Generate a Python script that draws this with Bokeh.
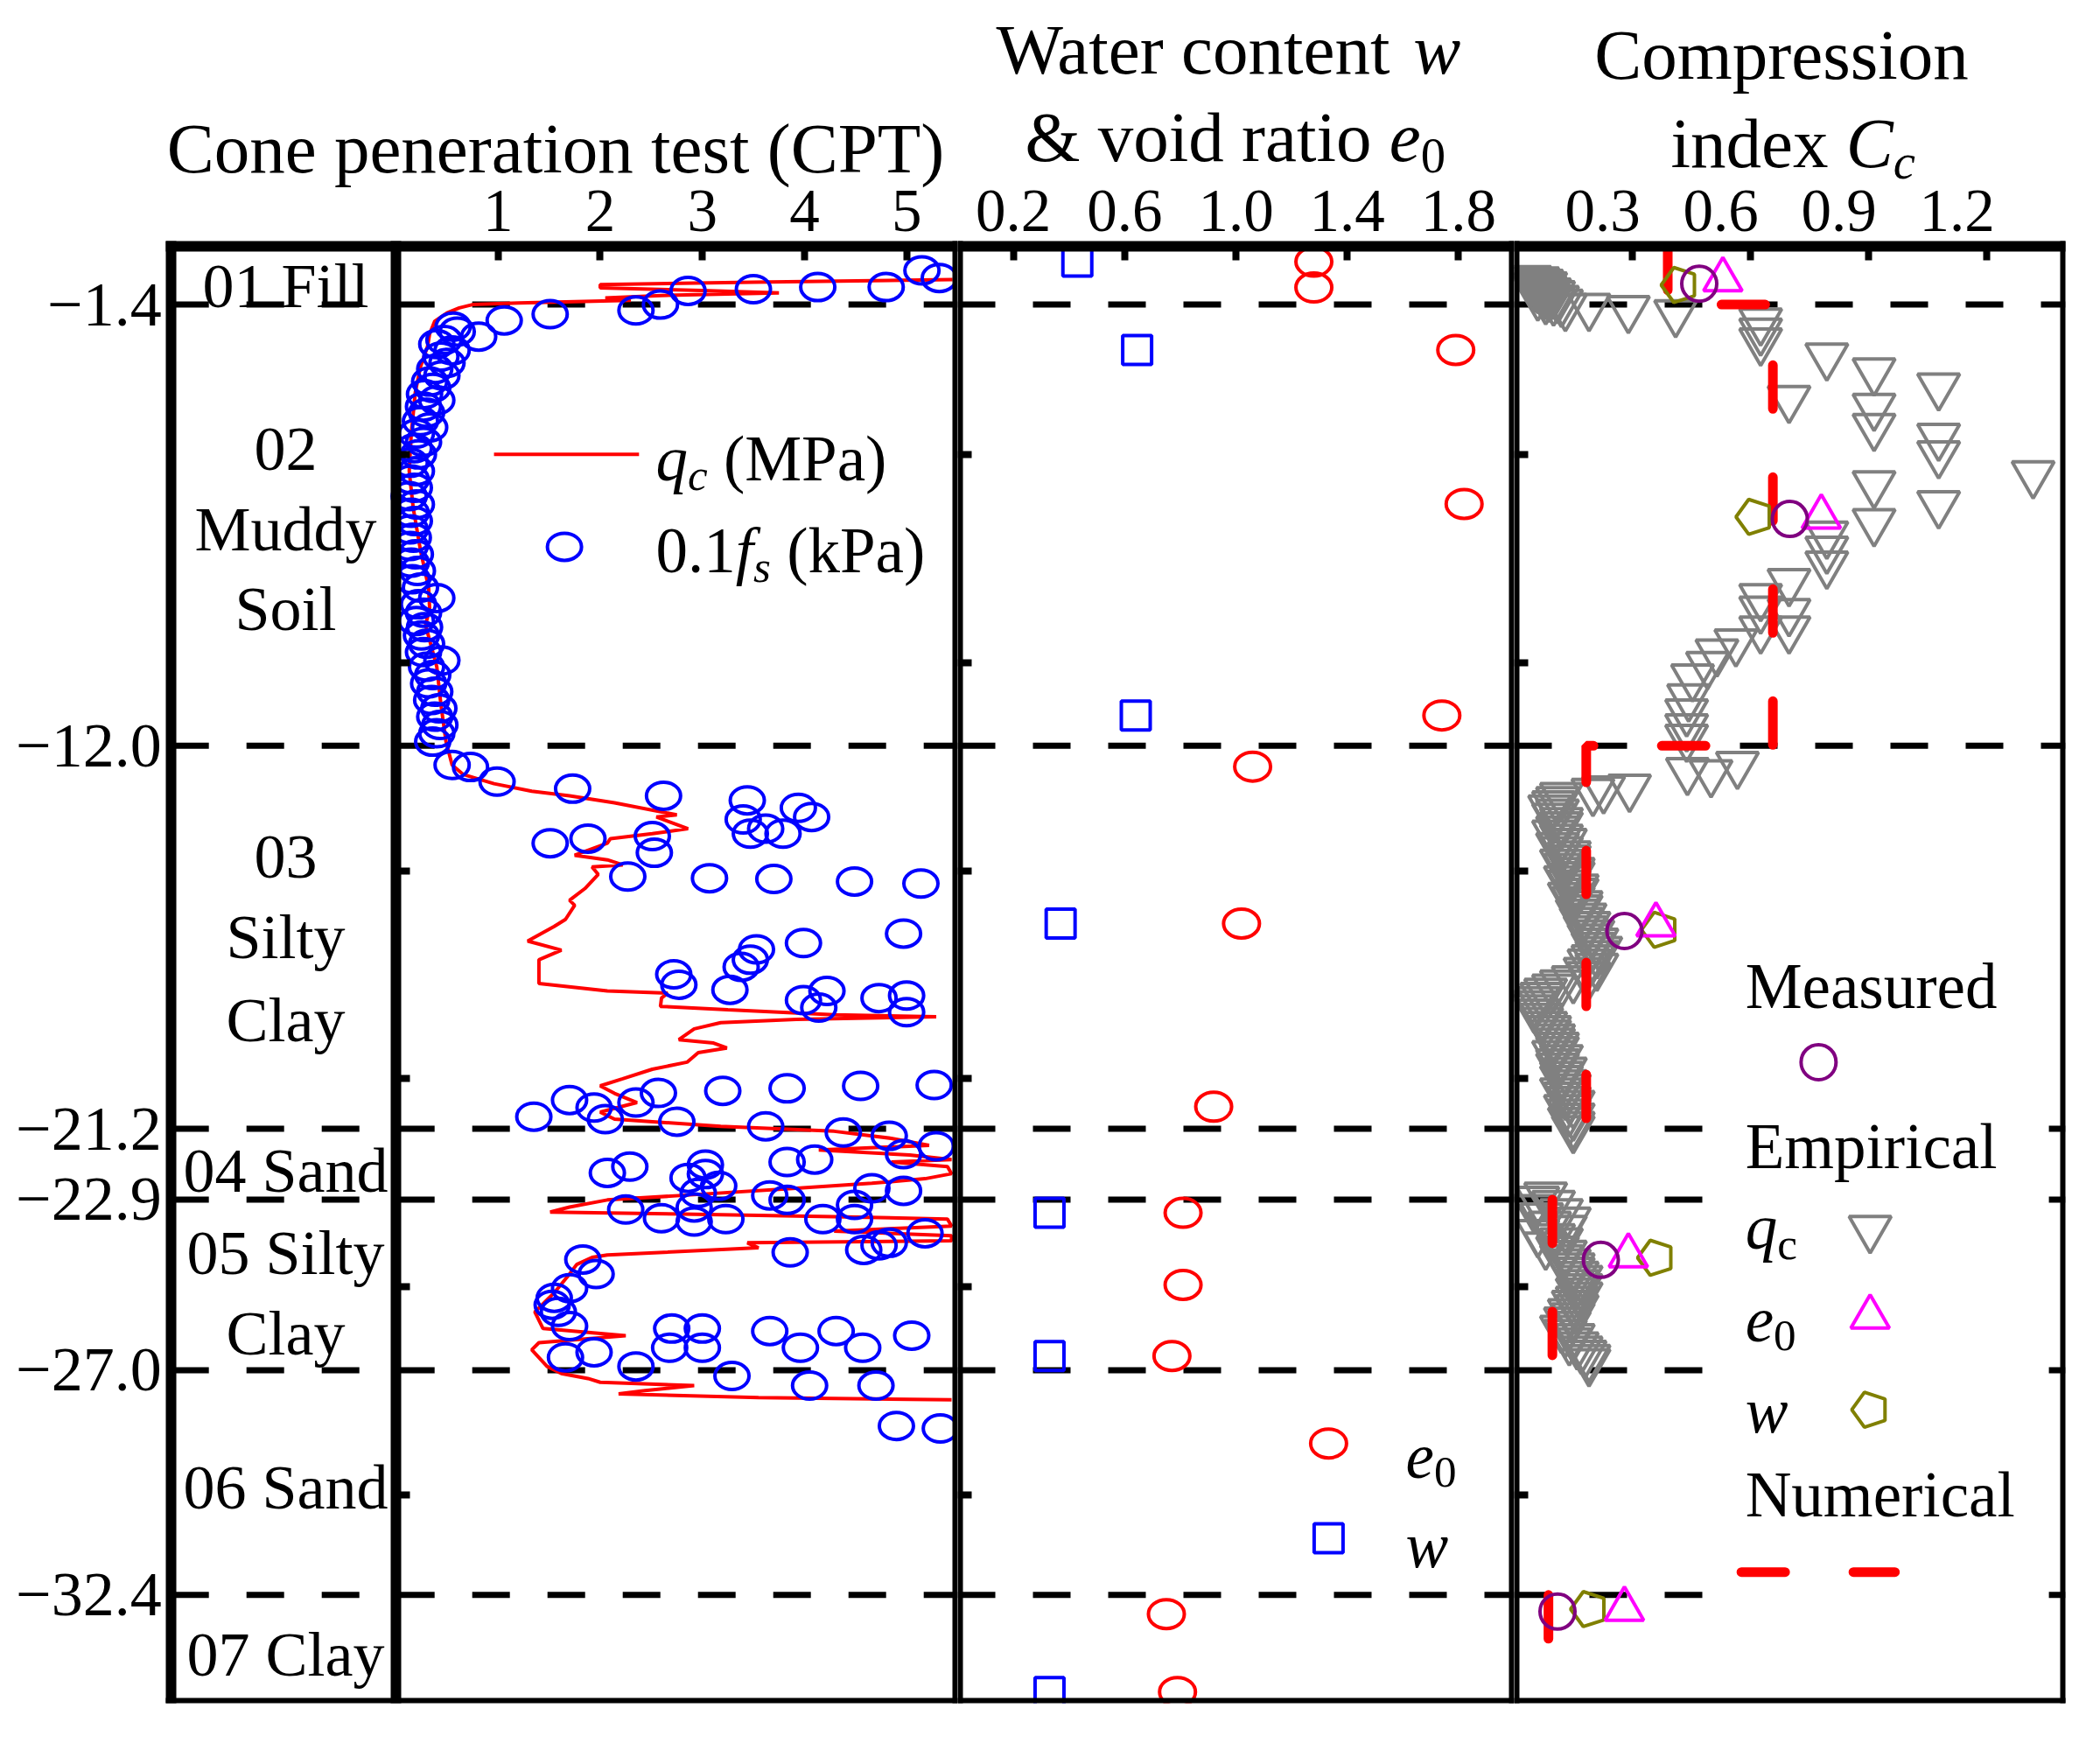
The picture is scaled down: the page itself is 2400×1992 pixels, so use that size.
import math
from bokeh.plotting import figure
from bokeh.models import (Range1d, LinearAxis, FixedTicker, CustomJSTickFormatter,
                          Span, Label, ColumnDataSource, BoxAnnotation)
from bokeh.layouts import row
from bokeh.embed import file_html
from bokeh.resources import INLINE

FONT = "Liberation Serif"
RED = "#FF0000"; BLUE = "#0000FF"; GRAY = "#808080"
PURPLE = "#800080"; MAGENTA = "#FF00FF"; OLIVE = "#808000"

# ------------------------------------------------------------------ data
layer_bounds = [1.4, 12.0, 21.2, 22.9, 27.0, 32.4]
depth_ticks = [5, 10, 15, 20, 25, 30]
layer_text = ["01 Fill", "02", "Muddy", "Soil", "03", "Silty", "Clay",
              "04 Sand", "05 Silty", "Clay", "06 Sand", "07 Clay"]
layer_text_depth = [1.26, 5.18, 7.1, 9.0, 14.97, 16.9, 18.89,
                    22.5, 24.48, 26.42, 30.12, 34.13]

cpt_ticks = [1, 2, 3, 4, 5]
wc_ticks = [0.2, 0.6, 1.0, 1.4, 1.8]
cc_ticks = [0.3, 0.6, 0.9, 1.2]

# CPT cone resistance q_c (MPa) vs depth (m)
qc_depth = [0.80, 0.86, 0.92, 1.00, 1.06, 1.12, 1.18, 1.24, 1.30, 1.36, 1.40, 1.48, 1.60, 1.80,
            2.1, 2.4, 2.9, 3.5, 4.5, 5.4, 6.3, 7.3, 8.2, 8.7, 9.1, 10.1, 11.0, 11.9,
            12.46, 12.69, 12.91, 13.09, 13.2, 13.37, 13.66, 13.71, 13.99, 14.11, 14.23, 14.34,
            14.63, 14.74, 14.86, 14.91, 15.09, 15.43, 15.71, 15.83, 16.17, 16.34, 16.69, 16.91,
            17.14, 17.37, 17.71, 17.89, 17.94, 18.06, 18.26, 18.34, 18.46, 18.51, 18.57, 18.65,
            18.80, 19.06, 19.14, 19.26, 19.37, 19.60, 19.77, 20.0, 20.17, 20.35, 20.57, 20.80,
            20.97, 21.14, 21.26, 21.43, 21.60, 21.71, 21.83, 21.94, 22.0, 22.11, 22.28, 22.40,
            22.51, 22.63, 22.80, 22.91, 23.08, 23.20, 23.25, 23.31, 23.37, 23.54, 23.66, 23.77,
            23.89, 23.94, 24.06, 24.23, 24.29, 24.46, 24.69, 25.14, 25.60, 26.0, 26.17, 26.34,
            26.51, 26.91, 27.08, 27.20, 27.29, 27.37, 27.49, 27.57, 27.66, 27.71]
qc_mpa = [5.45, 3.5, 2.0, 2.0, 3.0, 3.75, 2.6, 2.05, 2.3, 1.2, 0.75, 0.62, 0.5, 0.38,
          0.33, 0.31, 0.24, 0.19, 0.15, 0.13, 0.17, 0.24, 0.32, 0.33, 0.29, 0.40, 0.44, 0.49,
          0.55, 0.66, 0.96, 1.33, 1.70, 2.14, 2.75, 2.55, 2.86, 2.51, 2.10, 2.07,
          1.75, 2.07, 2.22, 1.92, 1.98, 1.85, 1.70, 1.75, 1.66, 1.55, 1.29, 1.62,
          1.40, 1.40, 1.40, 2.07, 2.66, 2.60, 2.59, 3.25, 4.29, 5.29, 3.92, 3.18,
          2.92, 2.77, 3.11, 3.24, 2.96, 2.85, 2.51, 2.22, 2.0, 2.14, 2.36, 2.0,
          2.14, 3.18, 4.29, 4.85, 5.22, 4.14, 5.03, 5.44, 4.85, 5.40, 5.44, 5.18,
          4.66, 3.92, 2.81, 2.07, 1.70, 1.51, 2.81, 4.29, 5.40, 5.44, 4.29, 5.44,
          5.44, 3.44, 3.55, 2.07, 1.92, 1.77, 1.70, 1.55, 1.36, 1.44, 2.25, 1.40,
          1.33, 1.48, 1.62, 1.88, 2.0, 2.92, 2.44, 2.18, 3.55, 5.44]

# CPT sleeve friction 0.1 f_s (kPa) vs depth (m)
fs_depth = [0.58, 0.76, 0.98, 0.98, 1.03, 1.07, 1.40, 1.54, 1.63, 1.78, 2.17, 1.93,
            2.05, 2.25, 2.35, 2.5, 2.65, 2.8, 2.95, 3.1, 3.25, 3.4, 3.55, 3.7, 3.85, 4.0,
            4.2, 4.35, 4.5, 4.7, 4.85, 5.0, 5.2, 5.4, 5.6, 5.8, 6.0, 6.2, 6.4, 6.6, 6.8,
            7.0, 7.2, 7.4, 7.6, 7.8, 8.0, 8.2, 8.45, 8.6, 8.8, 9.0, 9.15, 9.35, 9.55, 9.75,
            9.95, 10.1, 10.3, 10.5, 10.7, 10.9, 11.1, 11.3, 11.5, 11.7, 11.9,
            12.46, 12.51, 12.86, 13.03, 13.20, 13.31, 13.77, 14.11, 13.99, 14.11, 13.49, 13.71,
            14.34, 14.23, 14.17, 14.57, 15.14, 15.18, 15.20, 15.26, 15.31, 16.51, 16.74, 16.89,
            17.14, 17.31, 17.49, 17.74, 17.86, 18.11, 18.29, 17.89, 18.06, 18.00, 18.40,
            20.15, 20.17, 20.23, 20.29, 20.34, 20.57, 20.51, 20.69, 20.97, 20.91, 21.03, 21.14,
            21.29, 21.37, 21.81, 21.62, 21.94, 22.00, 22.06, 22.29, 22.38, 22.57, 22.11, 22.26,
            22.74, 22.80, 22.91, 23.03, 22.63, 22.69, 23.37, 23.14, 23.35, 23.09, 23.43, 23.37,
            23.37, 24.17, 24.11, 24.00, 23.71, 23.94, 24.34, 24.69, 25.03, 25.26, 25.60, 25.94,
            25.43, 26.69, 26.57, 26.91, 26.46, 26.00, 26.00, 26.46, 27.14, 26.06, 26.46, 26.06,
            26.46, 26.17, 27.37, 27.37, 28.34, 28.40]
fs_01kpa = [5.15, 5.32, 4.80, 4.13, 3.50, 2.86, 2.59, 2.35, 1.51, 1.06, 0.81, 0.56,
            0.60, 0.47, 0.40, 0.55, 0.44, 0.50, 0.38, 0.45, 0.33, 0.36, 0.28, 0.40, 0.27, 0.30,
            0.24, 0.33, 0.20, 0.27, 0.18, 0.22, 0.14, 0.20, 0.15, 0.18, 0.13, 0.20, 0.15, 0.18, 0.14,
            0.17, 0.14, 0.19, 0.15, 0.21, 0.16, 0.24, 0.40, 0.22, 0.27, 0.20, 0.28, 0.25, 0.30, 0.27,
            0.45, 0.30, 0.36, 0.32, 0.38, 0.35, 0.42, 0.38, 0.43, 0.40, 0.36,
            0.55, 0.73, 0.99, 1.73, 2.62, 3.44, 3.40, 3.47, 3.62, 3.79, 3.94, 4.07,
            1.51, 1.88, 2.51, 2.53, 2.27, 3.07, 3.70, 4.49, 5.14, 4.97, 3.99, 3.53,
            3.47, 3.38, 2.72, 2.77, 3.27, 3.99, 4.14, 4.22, 4.73, 5.00, 5.00,
            5.27, 4.55, 3.83, 3.20, 2.57, 2.35, 1.70, 1.94, 2.05, 1.35, 2.75, 3.62,
            4.38, 4.83, 4.97, 5.29, 4.10, 3.83, 3.03, 3.03, 2.86, 3.16, 2.29, 2.07,
            2.96, 3.66, 3.83, 4.49, 4.66, 4.97, 4.49, 2.25, 2.60, 2.92, 2.92, 3.23,
            4.18, 3.86, 4.58, 4.73, 5.18, 4.83, 1.83, 1.96, 1.70, 1.55, 1.59, 1.70,
            1.53, 1.66, 1.94, 2.35, 2.68, 2.70, 3.00, 3.00, 3.29, 3.66, 3.96, 4.31,
            4.57, 5.05, 4.05, 4.70, 4.90, 5.33]

# void ratio e0 and water content w vs depth
e0_depth = [0.37, 0.99, 2.49, 6.19, 11.27, 12.5, 16.27, 20.67, 23.22, 24.95, 26.66, 32.86, 34.73]
e0_val = [1.28, 1.28, 1.79, 1.82, 1.74, 1.06, 1.02, 0.92, 0.81, 0.81, 0.77, 0.75, 0.79]
w_depth = [0.37, 2.49, 11.27, 16.27, 23.22, 26.66, 34.73]
w_val = [0.43, 0.645, 0.64, 0.37, 0.33, 0.33, 0.33]

# compression index Cc
cc_meas_depth = [0.90, 6.55, 16.45, 24.35, 32.8]
cc_meas = [0.47, 0.70, 0.28, 0.22, 0.11]
cc_e0_depth = [0.80, 6.50, 16.30, 24.25, 32.74]
cc_e0 = [0.53, 0.78, 0.36, 0.29, 0.28]
cc_w_depth = [0.93, 6.50, 16.42, 24.30, 32.74]
cc_w = [0.42, 0.61, 0.37, 0.36, 0.19]
# empirical Cc from q_c (gray inverted triangles), layer by layer
cc_qc_depth = [0.78, 0.81, 0.84, 0.87, 0.90, 0.93, 0.96, 0.99, 1.02, 1.05, 1.08, 1.11, 1.14, 1.17,
               1.20, 1.23, 1.26, 1.29, 1.32, 1.35, 1.45, 1.45, 1.50, 1.60,
               1.80, 2.04, 2.28, 2.64, 3.00, 3.36, 3.66, 3.85, 4.33, 4.57, 4.99, 5.47, 5.71, 6.19,
               6.62, 6.92, 7.28, 7.64, 8.06, 8.42, 8.72, 8.78, 9.20, 9.20, 9.51, 9.75, 10.05, 10.35,
               10.83, 11.19, 11.55, 11.80,
               12.60, 12.65, 12.45, 13.04, 13.00, 13.10,
               13.2, 13.3, 13.4, 13.5, 13.6, 13.7, 13.8, 13.9, 14.0, 14.1, 14.2, 14.3, 14.4, 14.5,
               14.6, 14.7, 14.8, 14.9, 15.0, 15.1, 15.2, 15.3, 15.4, 15.5, 15.6, 15.7, 15.8, 15.9,
               16.0, 16.1, 16.2, 16.3, 16.4, 16.5, 16.6, 16.7, 16.8, 16.9, 17.0, 17.1, 17.2, 17.3,
               17.4, 17.5, 17.6, 17.7, 17.8, 17.9, 18.0, 18.1, 18.2, 18.3, 18.4, 18.5, 18.6, 18.7,
               18.8, 18.9, 19.0, 19.1, 19.2, 19.3, 19.4, 19.5, 19.6, 19.7, 19.8, 19.9, 20.0, 20.1,
               20.2, 20.3, 20.4, 20.5, 20.6, 20.7, 20.8, 20.9, 21.0, 21.1, 21.2,
               22.8, 22.9, 23.0, 23.1, 23.2, 23.3, 23.4, 23.5, 23.6, 23.7, 23.8, 23.9, 24.0, 24.1,
               24.2, 24.3, 24.4, 24.5, 24.6, 24.7, 24.8, 24.9, 25.0, 25.1, 25.2, 25.3, 25.4, 25.5,
               25.6, 25.7, 25.8, 25.9, 26.0, 26.1, 26.2, 26.3, 26.4, 26.5, 26.6, 26.7, 26.8]
cc_qc = [0.04, 0.06, 0.05, 0.07, 0.06, 0.08, 0.07, 0.05, 0.06, 0.08, 0.09, 0.07, 0.10, 0.08,
         0.06, 0.09, 0.11, 0.08, 0.10, 0.12, 0.13, 0.19, 0.29, 0.41,
         0.626, 0.626, 0.626, 0.794, 0.914, 1.078, 0.698, 0.914, 0.914, 1.078, 1.078, 1.318, 0.914, 1.078,
         0.914, 0.794, 0.794, 0.794, 0.698, 0.626, 0.626, 0.698, 0.626, 0.698, 0.563, 0.515, 0.491, 0.453,
         0.443, 0.438, 0.438, 0.438,
         0.44, 0.50, 0.567, 0.227, 0.293, 0.20,
         0.12, 0.11, 0.10, 0.09, 0.11, 0.10, 0.12, 0.12, 0.11, 0.10, 0.12, 0.13, 0.11, 0.12,
         0.14, 0.14, 0.12, 0.13, 0.15, 0.15, 0.13, 0.14, 0.16, 0.16, 0.14, 0.15, 0.17, 0.17,
         0.16, 0.18, 0.17, 0.19, 0.18, 0.20, 0.19, 0.21, 0.20, 0.22, 0.21, 0.20, 0.19, 0.21,
         0.18, 0.19, 0.15, 0.12, 0.10, 0.08, 0.07, 0.06, 0.05, 0.05, 0.06, 0.07, 0.07, 0.08,
         0.09, 0.09, 0.10, 0.10, 0.11, 0.11, 0.10, 0.12, 0.11, 0.11, 0.13, 0.12, 0.12, 0.13,
         0.14, 0.12, 0.13, 0.14, 0.15, 0.13, 0.14, 0.15, 0.14, 0.15, 0.15,
         0.08, 0.06, 0.10, 0.05, 0.12, 0.07, 0.14, 0.09, 0.13, 0.06, 0.10, 0.12, 0.08, 0.11,
         0.13, 0.12, 0.14, 0.15, 0.15, 0.16, 0.17, 0.16, 0.17, 0.16, 0.17, 0.16, 0.15, 0.16,
         0.14, 0.15, 0.13, 0.14, 0.12, 0.13, 0.15, 0.14, 0.16, 0.17, 0.18, 0.19, 0.19]
num_cc = [[0.39, 0.39, 0.657, 0.657, 0.183, 0.183], [0.097, 0.097], [0.087, 0.087]]
num_depth = [[0.0, 1.4, 1.4, 12.0, 12.0, 21.2], [22.9, 27.0], [32.4, 35.0]]

# ------------------------------------------------------------------ layout geometry
TOTAL_H = 1976
MB_BOT = 30
TOP_PX = 281                    # title/tick area above depth 0 (inside the frame)
FRAME_H = TOTAL_H - MB_BOT
SY = (FRAME_H - TOP_PX) / 35.0  # px per metre of depth
Y_TOP = -TOP_PX / SY
F1_W, F2_W, F3_W = 1094, 636, 654
F1_ZERO = 452                   # px from f1's left edge to CPT x = 0
SX1 = (F1_W - F1_ZERO) / 5.5
X1_L = -F1_ZERO / SX1
LAYER_L = -2.2                  # left edge of the layer-name column (CPT units)
SX2 = F2_W / 2.0
SX3 = (F3_W - 24) / 1.4
TITLE_FS = 81
BODY_FS = 73
DY_TITLE = -20.0 / SY
DY_BODY = -16.0 / SY
DY_LAYER = -14.0 / SY
CC_LABEL_SHIFT = 34.0 / SX3     # Cc tick labels sit left of their ticks in the original

R_W = {' ': 250, '&': 778, '(': 333, ')': 333, '.': 250, 'A': 722, 'C': 667, 'E': 611,
       'F': 556, 'M': 889, 'N': 722, 'P': 556, 'S': 556, 'T': 611, 'W': 944, 'a': 444,
       'c': 444, 'd': 500, 'e': 444, 'f': 333, 'i': 278, 'k': 500, 'l': 278, 'm': 778,
       'n': 500, 'o': 500, 'p': 500, 'r': 333, 's': 389, 't': 278, 'u': 500, 'v': 500,
       'x': 500, 'y': 500}
I_W = {'q': 500, 'c': 444, 'e': 444, 'w': 667, 'f': 278, 's': 389, 'C': 667}


def twidth(s, size, italic):
    tbl = I_W if italic else R_W
    return sum(tbl.get(ch, 500) for ch in s) * size / 1000.0


def label(p, x, y, text, size, italic=False, align="left", dy=DY_BODY):
    p.add_layout(Label(x=x, y=y + dy, text=text, text_font=FONT,
                       text_font_size=f"{size:.1f}px",
                       text_font_style="italic" if italic else "normal",
                       text_align=align, text_baseline="alphabetic", text_color="black"))


def rich(p, x, y, parts, size, sx, dy=DY_BODY):
    """parts: (text, italic, subscript); x, y = data position of the baseline start."""
    cur = x
    for t, it, sub in parts:
        fs = size * (0.7 if sub else 1.0)
        yy = y + (0.25 * size / SY if sub else 0.0)
        if t.strip():
            label(p, cur, yy, t, fs, italic=it, dy=dy)
        cur += twidth(t, fs, it) / sx


def border(p, side, loc, bounds="auto", ticks=(), code="return ''", tick_in=0,
           label_size="0px", standoff=0, show_line=True):
    p.add_layout(LinearAxis(fixed_location=loc, bounds=bounds,
                            ticker=FixedTicker(ticks=list(ticks)),
                            formatter=CustomJSTickFormatter(code=code),
                            axis_line_color="black" if show_line else None,
                            axis_line_width=12, axis_line_cap="square",
                            major_tick_in=tick_in, major_tick_out=0,
                            major_tick_line_color="black",
                            major_tick_line_width=8, minor_tick_line_color=None,
                            major_label_text_font=FONT, major_label_text_font_size=label_size,
                            major_label_text_color="black",
                            major_label_standoff=standoff), side)


def make_fig(width, xr, mbr, spans=True):
    p = figure(width=width, height=TOTAL_H, x_range=xr, y_range=Range1d(35, Y_TOP),
               x_axis_location=None, y_axis_location=None, toolbar_location=None,
               tools="", output_backend="svg", min_border_left=0, min_border_right=mbr,
               min_border_top=0, min_border_bottom=MB_BOT)
    p.grid.visible = False
    p.outline_line_color = None
    p.background_fill_color = "white"
    p.border_fill_color = "white"
    if spans:
        for d in layer_bounds:
            p.add_layout(Span(location=d, dimension="width", line_color="black",
                              line_width=7, line_dash="43 43", level="underlay"))
    return p


def pentagons(p, xs, ys, r):
    src = ColumnDataSource(dict(x=xs, y=ys))
    try:
        from bokeh.models import Ngon
        g = Ngon(x="x", y="y", radius=r, radius_units="screen", n=5, angle=math.pi / 2,
                 fill_color=None, line_color=OLIVE, line_width=4)
        p.add_glyph(src, g)
    except Exception:
        p.scatter(x="x", y="y", source=src, marker="hex", size=2 * r,
                  fill_color=None, line_color=OLIVE, line_width=4)


# ------------------------------------------------------------------ panel 1: layers + CPT
f1 = make_fig(F1_W, Range1d(X1_L, 5.5), 0, spans=False)
f1.segment(x0=[LAYER_L] * len(layer_bounds), x1=[5.5] * len(layer_bounds),
           y0=layer_bounds, y1=layer_bounds, line_color="black", line_width=7,
           line_dash="43 43", level="underlay")
f1.line(qc_mpa, qc_depth, line_color=RED, line_width=4)
f1.ellipse(fs_01kpa, fs_depth, width=39, height=31, width_units="screen",
           height_units="screen", fill_color=None, line_color=BLUE, line_width=4)
for t, d in zip(layer_text, layer_text_depth):
    label(f1, -1.08, d, t, 72, align="center", dy=DY_LAYER)
# CPT legend
f1.line([0.96, 2.38], [5.0, 5.0], line_color=RED, line_width=4)
rich(f1, 2.544, 5.44, [("q", True, False), ("c", True, True), (" ", False, False),
                       ("(MPa)", False, False)], BODY_FS, SX1)
f1.ellipse([1.65], [7.22], width=39, height=31, width_units="screen", height_units="screen",
           fill_color=None, line_color=BLUE, line_width=4)
rich(f1, 2.544, 7.65, [("0.1", False, False), ("f", True, False), ("s", True, True),
                       (" ", False, False), ("(kPa)", False, False)], BODY_FS, SX1)
label(f1, 1.563, -1.93, "Cone peneration test (CPT)", TITLE_FS, align="center", dy=DY_TITLE)
# frame
border(f1, "above", 0, bounds=(LAYER_L, 5.5), ticks=cpt_ticks, code="return tick.toFixed(0)",
       tick_in=16, label_size="69px", standoff=18)
border(f1, "below", 35, bounds=(LAYER_L, 5.5))
border(f1, "left", LAYER_L, bounds=(0, 35), ticks=layer_bounds,
       code="return '\u2212' + tick.toFixed(1)", label_size="72px", standoff=11)
border(f1, "left", 0, bounds=(0, 35), ticks=depth_ticks, tick_in=16)
border(f1, "right", 5.5, bounds=(0, 35))

# ------------------------------------------------------------------ panel 2: w and e0
f2 = make_fig(F2_W, Range1d(0, 2.0), 0)
f2.ellipse(e0_val, e0_depth, width=41, height=33, width_units="screen", height_units="screen",
           fill_color=None, line_color=RED, line_width=4)
f2.scatter(w_val, w_depth, marker="square", size=33, fill_color=None, line_color=BLUE,
           line_width=4)
f2.ellipse([1.333], [28.76], width=41, height=33, width_units="screen", height_units="screen",
           fill_color=None, line_color=RED, line_width=4)
rich(f2, 1.61, 29.4, [("e", True, False), ("0", False, True)], BODY_FS, SX2)
f2.scatter([1.333], [31.04], marker="square", size=33, fill_color=None, line_color=BLUE,
           line_width=4)
rich(f2, 1.61, 31.56, [("w", True, False)], BODY_FS, SX2)
rich(f2, 0.138, -4.29, [("Water content", False, False), (" ", False, False), ("w", True, False)],
     TITLE_FS, SX2, dy=DY_TITLE)
rich(f2, 0.242, -2.19, [("& void ratio", False, False), (" ", False, False), ("e", True, False),
                        ("0", False, True)], TITLE_FS, SX2, dy=DY_TITLE)
border(f2, "above", 0, ticks=wc_ticks, code="return tick.toFixed(1)", tick_in=16,
       label_size="69px", standoff=18)
border(f2, "below", 35)
border(f2, "left", 0, bounds=(0, 35), ticks=depth_ticks, tick_in=16)
border(f2, "right", 2.0, bounds=(0, 35))

# ------------------------------------------------------------------ panel 3: Cc
f3 = make_fig(F3_W, Range1d(0, 1.4), 24)
# white legend background (hides the layer lines behind the legend)
f3.add_layout(BoxAnnotation(left=0.50, right=1.358, top=17.0, bottom=32.9, fill_color="white",
                            fill_alpha=1.0, line_color=None, level="underlay"))
f3.scatter(cc_qc, cc_qc_depth, marker="inverted_triangle", size=48, fill_color=None,
           line_color=GRAY, line_width=4)
f3.multi_line(num_cc, num_depth, line_color=RED, line_width=11, line_dash="50 78",
              line_cap="round")
pentagons(f3, cc_w, cc_w_depth, 21)
f3.scatter(cc_e0, cc_e0_depth, marker="triangle", size=44, fill_color=None,
           line_color=MAGENTA, line_width=4)
f3.scatter(cc_meas, cc_meas_depth, marker="circle", size=40, fill_color=None,
           line_color=PURPLE, line_width=4)
# legend
rich(f3, 0.587, 18.11, [("Measured", False, False)], BODY_FS, SX3)
f3.scatter([0.773], [19.6], marker="circle", size=40, fill_color=None, line_color=PURPLE,
           line_width=4)
rich(f3, 0.587, 21.96, [("Empirical", False, False)], BODY_FS, SX3)
rich(f3, 0.587, 23.91, [("q", True, False), ("c", False, True)], BODY_FS, SX3)
f3.scatter([0.904], [23.6], marker="inverted_triangle", size=48, fill_color=None,
           line_color=GRAY, line_width=4)
rich(f3, 0.587, 26.12, [("e", True, False), ("0", False, True)], BODY_FS, SX3)
f3.scatter([0.904], [25.72], marker="triangle", size=44, fill_color=None,
           line_color=MAGENTA, line_width=4)
rich(f3, 0.587, 28.32, [("w", True, False)], BODY_FS, SX3)
pentagons(f3, [0.904], [27.95], 21)
rich(f3, 0.587, 30.34, [("Numerical", False, False)], BODY_FS, SX3)
f3.line([0.577, 0.967], [31.85, 31.85], line_color=RED, line_width=11, line_dash="50 78",
        line_cap="round")
label(f3, 0.679, -4.18, "Compression", TITLE_FS, align="center", dy=DY_TITLE)
rich(f3, 0.398, -2.04, [("index", False, False), (" ", False, False), ("C", True, False),
                        ("c", True, True)], TITLE_FS, SX3, dy=DY_TITLE)
border(f3, "above", 0, ticks=cc_ticks, tick_in=16)
border(f3, "above", 0, ticks=[t - CC_LABEL_SHIFT for t in cc_ticks],
       code=f"return (tick + {CC_LABEL_SHIFT:.6f}).toFixed(1)", label_size="69px",
       standoff=18, show_line=False)
border(f3, "below", 35)
border(f3, "left", 0, bounds=(0, 35), ticks=depth_ticks, tick_in=16)
border(f3, "right", 1.4, bounds=(0, 35))

layout = row(f1, f2, f3)
open("out.html", "w").write(file_html(layout, INLINE))
